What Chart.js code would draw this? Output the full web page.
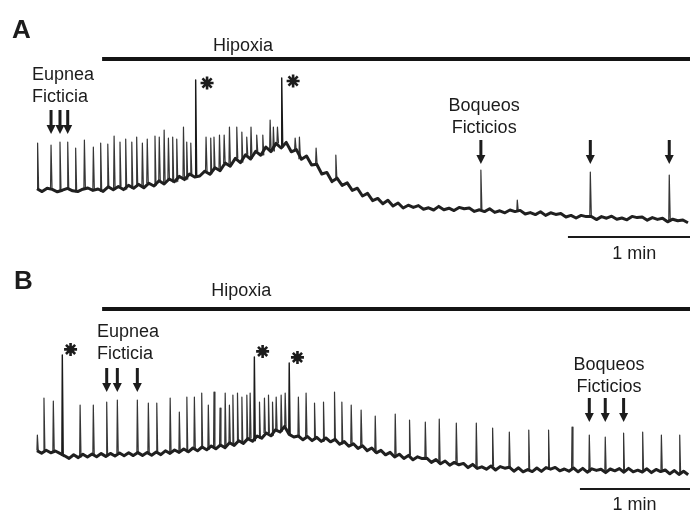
<!DOCTYPE html>
<html>
<head>
<meta charset="utf-8">
<script src="https://cdn.jsdelivr.net/npm/chart.js@4.4.1/dist/chart.umd.min.js"></script>
<style>
  html, body { margin: 0; padding: 0; background: #ffffff; }
  #wrap { position: relative; width: 691px; height: 512px; overflow: hidden; }
  canvas { position: absolute; left: 0; }
  #panelA { top: 0; }
  #panelB { top: 264px; }
</style>
</head>
<body>
<div id="wrap">
  <canvas id="panelA" width="691" height="264"></canvas>
  <canvas id="panelB" width="691" height="248"></canvas>
</div>
<script>
// Integrated phrenic activity (a.u.), baseline sampled every STEP seconds
const STEP = 2.5;
const SCALE_BAR_S = 60;   // "1 min" calibration bar

// ---- Panel A ----
const durationA = 321;
const hypoxiaStartA = 32.0;
const baseA = [
  25.6, 24.2, 25.9, 25.3, 24.1, 24.9, 25.8, 24.6, 24.2, 25.4,
  26.0, 24.8, 25.5, 24.3, 26.6, 25.1, 26.8, 25.2, 27.3, 25.9,
  27.8, 26.1, 28.4, 27.0, 29.6, 28.0, 30.5, 29.1, 31.8, 30.2,
  33.0, 31.5, 32.0, 34.4, 32.9, 36.1, 34.6, 38.5, 36.9, 40.8,
  38.7, 42.6, 40.5, 44.3, 42.4, 46.5, 44.2, 48.3, 46.0, 48.8,
  44.1, 45.2, 40.4, 42.0, 37.5, 37.9, 33.0, 33.8, 29.2, 30.9,
  27.3, 28.6, 24.8, 25.9, 22.0, 23.3, 19.7, 20.8, 18.1, 19.9,
  17.0, 18.5, 16.0, 17.4, 16.3, 17.2, 15.4, 16.1, 15.0, 16.8,
  15.1, 15.9, 14.7, 16.3, 15.6, 16.0, 14.3, 15.1, 14.2, 15.6,
  13.8, 14.6, 13.6, 15.0, 14.2, 14.8, 13.0, 13.7, 12.7, 14.1,
  12.3, 13.6, 12.8, 13.2, 11.5, 12.3, 11.0, 12.3, 11.7, 11.8,
  10.2, 11.7, 10.9, 11.9, 10.4, 11.0, 10.1, 11.8, 11.2, 11.5,
  9.9, 11.2, 10.3, 10.9, 9.1, 10.4, 9.6, 10.0, 8.6
];
const burstTimesA = [
  0.3, 6.9, 11.3, 15.1, 19.0, 23.3, 27.7, 31.3, 34.8, 37.9, 40.8, 43.6, 46.6, 49.0, 51.8, 54.2, 58.0, 60.1, 62.5, 64.6, 66.7, 68.7, 72.0, 73.6, 75.6,
  83.1, 85.4, 87.0, 89.7, 92.0, 94.6, 98.2, 100.7, 103.1, 105.2, 108.0, 111.0, 114.6, 116.2, 118.2,
  126.9, 129.0, 137.2, 146.9, 218.2, 236.1, 272.0, 310.8
];
const burstPeaksA = [
  48.5, 47.5, 49, 49, 46, 50, 46.5, 48.5, 48, 52, 49, 50.5, 49, 51.5, 48.5, 50.5, 52, 51.5, 55, 51, 51.5, 50.5, 56.5, 49, 48.5,
  51.5, 51, 51.5, 52.5, 52.5, 56.5, 56.5, 54, 51.5, 56.5, 52.5, 52.5, 60, 56.5, 56.5,
  51, 51.5, 46, 42.5, 35, 20, 34, 32.5
];
const sighTimesA = [78.0, 120.3];
const sighPeaksA = [80, 81];
const eupneaArrowsA = [6.9, 11.3, 15.1];
const gaspArrowsA = [218.2, 272.0, 310.8];

// ---- Panel B ----
const durationB = 356;
const hypoxiaStartB = 35.5;
const baseB = [
  22.7, 21.4, 22.9, 21.6, 22.5, 21.3, 20.1, 18.8, 20.6, 19.2,
  20.9, 19.5, 21.0, 19.6, 21.2, 19.8, 21.3, 20.0, 21.5, 20.1,
  21.6, 20.2, 21.7, 20.3, 21.8, 20.4, 22.0, 20.7, 22.6, 21.3,
  23.0, 21.8, 23.5, 22.1, 24.0, 22.6, 24.5, 23.1, 25.0, 23.6,
  25.5, 24.2, 26.6, 25.3, 27.6, 26.3, 28.7, 27.4, 30.0, 28.9,
  31.5, 30.1, 33.1, 32.0, 34.8, 30.8, 29.5, 30.0, 28.1, 29.7,
  27.7, 29.3, 27.3, 29.0, 27.1, 28.3, 25.9, 27.2, 24.9, 26.1,
  23.8, 25.1, 22.7, 24.0, 21.6, 22.8, 20.6, 21.8, 19.5, 20.9,
  18.8, 20.3, 18.1, 19.6, 18.7, 18.9, 16.8, 18.2, 16.1, 17.5,
  15.4, 16.8, 15.6, 16.3, 14.2, 15.8, 13.8, 14.6, 13.4, 15.0,
  13.0, 14.7, 13.9, 14.4, 12.4, 14.1, 12.1, 13.2, 12.2, 14.0,
  12.3, 14.2, 13.4, 14.3, 12.6, 13.5, 12.4, 14.0, 12.1, 13.8,
  11.9, 13.6, 12.8, 13.4, 11.7, 13.5, 12.6, 13.7, 11.9, 13.8,
  12.1, 12.9, 12.0, 13.6, 11.7, 13.3, 12.2, 13.0, 11.1, 12.7,
  10.8, 12.4, 10.6
];
const burstTimesB = [
  0.2, 3.8, 8.9, 23.5, 30.7, 38.0, 43.8, 54.7, 60.7, 65.3, 72.6, 77.6, 81.7, 85.8, 89.8, 93.4, 96.5, 99.8, 102.6, 104.9, 106.8, 109.3, 111.7, 114.4, 116.2,
  121.3, 124.0, 126.2, 128.4, 130.4, 133.1, 135.3, 142.5, 146.7, 151.3, 156.2, 162.2, 166.2, 171.3, 176.7,
  184.4, 195.3, 203.1, 211.7, 219.3, 228.6, 239.5, 248.4, 257.5, 268.1,
  278.9, 291.7, 301.1, 309.8, 319.8, 330.2, 340.4, 350.4
];
const burstPeaksB = [
  30.5, 49, 47.5, 45.5, 45.5, 47, 48, 48, 46.5, 46.5, 49, 42, 49.5, 49.5, 51.5, 45.5, 52, 44, 51.5, 45.5, 50.5, 51.5, 49.5, 50.5, 51.5,
  47, 49, 50.5, 47, 49.5, 50.5, 51.5, 49.5, 51.5, 46.5, 47, 52, 47, 45.5, 43,
  40, 41, 38, 37, 38.5, 36.5, 36.5, 34, 32, 33,
  33, 34.5, 30.5, 29.5, 31.5, 32, 30.5, 30.5
];
const sighTimesB = [13.8, 118.5, 137.5];
const sighPeaksB = [70.5, 69.5, 66.5];
const eupneaArrowsB = [38.0, 43.8, 54.7];
const gaspArrowsB = [301.1, 309.8, 319.8];

// ---------------------------------------------------------------
const INK = '#1c1c1c';
const FONT = '"Liberation Sans", Arial, Helvetica, sans-serif';

// Text, arrows and panel letter drawn on top of the traces
const panelNotes = {
  id: 'panelNotes',
  afterDraw(chart, args, opts) {
    const { ctx } = chart;
    const xs = chart.scales.x, ys = chart.scales.y;
    ctx.save();
    ctx.fillStyle = INK;
    ctx.strokeStyle = INK;
    ctx.textBaseline = 'alphabetic';

    ctx.font = 'bold 26px ' + FONT;
    ctx.textAlign = 'left';
    ctx.fillText(opts.letter, opts.letterX, opts.letterY);

    ctx.font = '18px ' + FONT;
    for (const n of opts.notes) {
      ctx.textAlign = n.align;
      const px = xs.getPixelForValue(n.t);
      const py = ys.getPixelForValue(n.v);
      n.lines.forEach((s, k) => ctx.fillText(s, px, py + k * 21.5));
    }

    for (const g of opts.arrows) {
      const tipY = ys.getPixelForValue(g.tip);
      for (const t of g.times) {
        const px = xs.getPixelForValue(t);
        ctx.lineWidth = 3;
        ctx.beginPath();
        ctx.moveTo(px, tipY - 24);
        ctx.lineTo(px, tipY - 7);
        ctx.stroke();
        ctx.beginPath();
        ctx.moveTo(px - 4.5, tipY - 9);
        ctx.lineTo(px + 4.5, tipY - 9);
        ctx.lineTo(px, tipY);
        ctx.closePath();
        ctx.fill();
      }
    }
    ctx.restore();
  }
};

function buildPanel(canvasId, p) {
  const nearestBase = t => p.base[Math.min(p.base.length - 1, Math.max(0, Math.round(t / STEP)))];

  const trace = p.base.map((v, i) => ({ x: i * STEP, y: v }));

  const spikePoints = (times, peaks) => {
    const pts = [];
    times.forEach((t, i) => {
      const b = nearestBase(t);
      pts.push({ x: t - 0.25, y: b }, { x: t, y: peaks[i] }, { x: t + 0.5, y: b }, { x: t + 0.5, y: null });
    });
    return pts;
  };

  const stars = p.sighT.map((t, i) => ({ x: t + p.starDx, y: p.sighV[i] + p.starDv }));

  const lineStyle = (color, width) => ({
    borderColor: color, borderWidth: width, pointRadius: 0, tension: 0,
    fill: false, spanGaps: false, clip: false, borderJoinStyle: 'round'
  });

  return new Chart(document.getElementById(canvasId), {
    type: 'line',
    data: {
      datasets: [
        Object.assign({ label: 'baseline', data: trace }, lineStyle('#202020', 3)),
        Object.assign({ label: 'bursts', data: spikePoints(p.burstT, p.burstV) }, lineStyle('#363636', 1.2)),
        Object.assign({ label: 'sighs', data: spikePoints(p.sighT, p.sighV) }, lineStyle('#1a1a1a', 1.4)),
        Object.assign({ label: 'hypoxia', data: [{ x: p.hypoxiaStart, y: p.hypoxiaV }, { x: p.duration, y: p.hypoxiaV }] },
          lineStyle('#141414', 4), { borderCapStyle: 'butt' }),
        Object.assign({ label: 'scale', data: [{ x: p.duration - SCALE_BAR_S, y: p.scaleV }, { x: p.duration, y: p.scaleV }] },
          lineStyle('#1a1a1a', 2), { borderCapStyle: 'butt' }),
        {
          label: 'sigh marks', data: stars, showLine: false,
          pointStyle: 'star', pointRadius: 6.5, pointBorderWidth: 2.6,
          pointBorderColor: INK, pointBackgroundColor: INK, clip: false
        }
      ]
    },
    options: {
      responsive: false,
      animation: false,
      devicePixelRatio: 1,
      events: [],
      layout: { padding: p.padding, autoPadding: false },
      scales: {
        x: { type: 'linear', min: 0, max: p.duration, display: false },
        y: { type: 'linear', min: 0, max: 100, display: false }
      },
      plugins: {
        legend: { display: false },
        tooltip: { enabled: false },
        panelNotes: p.notes
      }
    },
    plugins: [panelNotes]
  });
}

buildPanel('panelA', {
  base: baseA, burstT: burstTimesA, burstV: burstPeaksA,
  sighT: sighTimesA, sighV: sighPeaksA, starDx: 5.6, starDv: -1.5,
  duration: durationA, hypoxiaStart: hypoxiaStartA, hypoxiaV: 90.5, scaleV: 1.5,
  padding: { left: 37, right: 1, top: 40, bottom: 24 },
  notes: {
    letter: 'A', letterX: 12, letterY: 38,
    notes: [
      { lines: ['Hipoxia'], t: 101.3, v: 94.5, align: 'center' },
      { lines: ['Eupnea', 'Ficticia'], t: -2.5, v: 80, align: 'left' },
      { lines: ['Boqueos', 'Ficticios'], t: 219.8, v: 64.5, align: 'center' },
      { lines: ['1 min'], t: 293.6, v: -9.5, align: 'center' }
    ],
    arrows: [
      { times: eupneaArrowsA, tip: 53 },
      { times: gaspArrowsA, tip: 38 }
    ]
  }
});

buildPanel('panelB', {
  base: baseB, burstT: burstTimesB, burstV: burstPeaksB,
  sighT: sighTimesB, sighV: sighPeaksB, starDx: 4.5, starDv: 2.8,
  duration: durationB, hypoxiaStart: hypoxiaStartB, hypoxiaV: 93.5, scaleV: 3.5,
  padding: { left: 37, right: 1, top: 32, bottom: 16 },
  notes: {
    letter: 'B', letterX: 14, letterY: 25,
    notes: [
      { lines: ['Hipoxia'], t: 111.3, v: 100, align: 'center' },
      { lines: ['Eupnea', 'Ficticia'], t: 32.7, v: 79.5, align: 'left' },
      { lines: ['Boqueos', 'Ficticios'], t: 311.8, v: 63, align: 'center' },
      { lines: ['1 min'], t: 325.7, v: -7, align: 'center' }
    ],
    arrows: [
      { times: eupneaArrowsB, tip: 52 },
      { times: gaspArrowsB, tip: 37 }
    ]
  }
});
</script>
</body>
</html>
